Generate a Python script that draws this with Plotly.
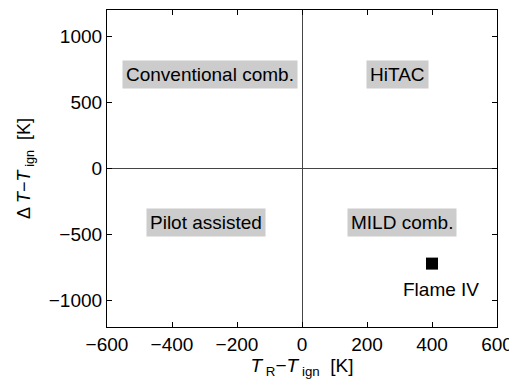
import plotly.graph_objects as go

regime_labels = ["Conventional comb.", "HiTAC", "Pilot assisted", "MILD comb."]
regime_x = [-283, 294, -294, 309]
regime_y = [715, 715, -408, -408]

flame_name = ["Flame IV"]
flame_x = [400]
flame_y = [-720]

x_ticks = [-600, -400, -200, 0, 200, 400, 600]
y_ticks = [-1000, -500, 0, 500, 1000]

font = dict(family="Liberation Sans, Arial, Helvetica, sans-serif", size=19, color="black")

fig = go.Figure()
fig.add_trace(go.Scatter(x=flame_x, y=flame_y, mode="markers",
                         marker=dict(symbol="square", size=12, color="black"),
                         showlegend=False))

for lab, x, y in zip(regime_labels, regime_x, regime_y):
    fig.add_annotation(x=x, y=y, text=lab, showarrow=False, bgcolor="#cccccc",
                       borderpad=3, font=font)
fig.add_annotation(x=428, y=-918, text=flame_name[0], showarrow=False, font=font)

axis_common = dict(showline=True, linecolor="black", linewidth=1.2, mirror="ticks",
                   ticks="inside", ticklen=5, tickcolor="black", showgrid=False,
                   zeroline=True, zerolinecolor="#444444", zerolinewidth=1,
                   tickfont=font)

fig.update_xaxes(range=[-600, 600], tickvals=x_ticks,
                 ticktext=[str(v).replace("-", "\u2212") for v in x_ticks],
                 title=dict(text="<i>T</i>\u2009<sub>R</sub>\u2212<i>T</i>\u2009<sub>ign</sub>  [K]",
                            font=font, standoff=2),
                 **axis_common)
fig.update_yaxes(range=[-1200, 1200], tickvals=y_ticks,
                 ticktext=[str(v).replace("-", "\u2212") for v in y_ticks],
                 title=dict(text="\u0394 <i>T</i>\u2212<i>T</i>\u2009<sub>ign</sub>  [K]",
                            font=dict(family=font["family"], size=18, color="black"),
                            standoff=13),
                 **axis_common)

fig.update_layout(width=509, height=381, margin=dict(l=99, r=20, t=2, b=62),
                  plot_bgcolor="white", paper_bgcolor="white", font=font)

fig.write_html("out.html")
